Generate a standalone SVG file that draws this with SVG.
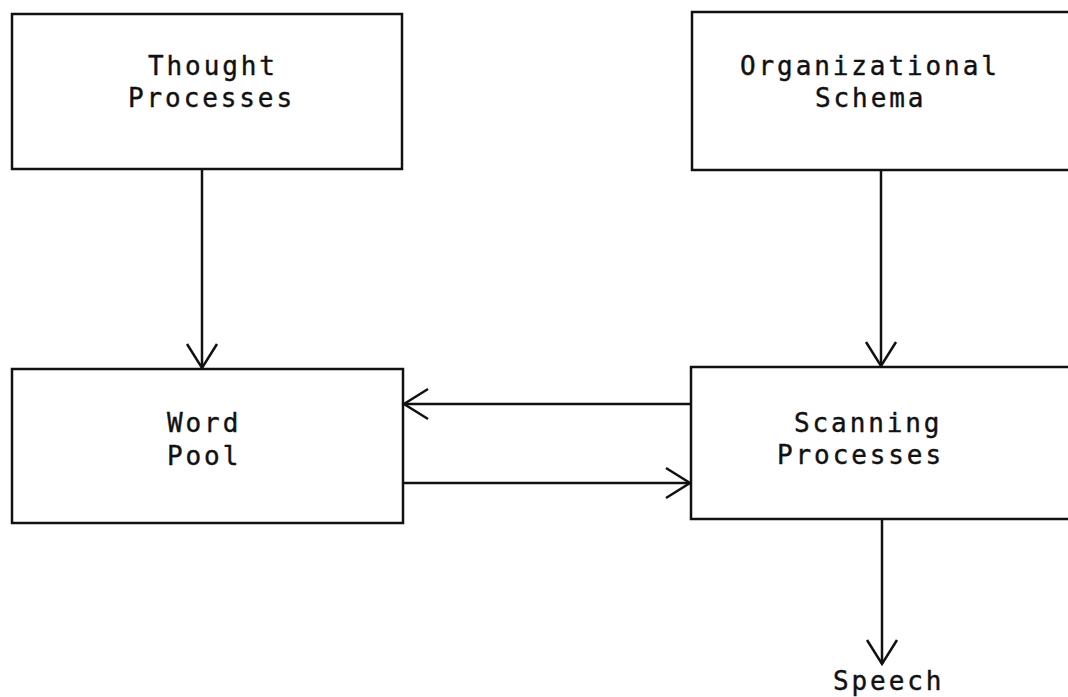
<svg xmlns="http://www.w3.org/2000/svg" width="1068" height="697" viewBox="0 0 1068 697">
<style>
.box{fill:none;stroke:#111;stroke-width:2.5}
.lbl{font-family:"DejaVu Sans Mono","Liberation Mono",monospace;font-size:26px;letter-spacing:2.9px;fill:#111;stroke:#111;stroke-width:0.4}
.conn{stroke:#111;stroke-width:2.5;fill:none}
</style>
<defs>
<marker id="arr" markerUnits="userSpaceOnUse" markerWidth="30" markerHeight="34" viewBox="-26 -17 30 34" refX="0" refY="0" orient="auto">
<path d="M -24 -15 L 0 0 L -24 15" fill="none" stroke="#111" stroke-width="2.5"/>
</marker>
</defs>
<rect x="0" y="0" width="1068" height="697" fill="#fff"/>
<g id="thought">
<rect class="box" x="12" y="14" width="390" height="155"/>
<text class="lbl" x="148" y="75">Thought</text>
<text class="lbl" x="128" y="107">Processes</text>
</g>
<g id="organizational">
<rect class="box" x="692" y="12" width="390" height="158"/>
<text class="lbl" x="740" y="75">Organizational</text>
<text class="lbl" x="815" y="107">Schema</text>
</g>
<g id="wordpool">
<rect class="box" x="12" y="369" width="391" height="154"/>
<text class="lbl" x="167" y="432">Word</text>
<text class="lbl" x="167" y="465">Pool</text>
</g>
<g id="scanning">
<rect class="box" x="691" y="367" width="390" height="152"/>
<text class="lbl" x="794" y="432">Scanning</text>
<text class="lbl" x="777" y="464">Processes</text>
</g>
<g id="speech">
<text class="lbl" x="833" y="690">Speech</text>
</g>
<g id="connectors">
<line class="conn" x1="202" y1="169" x2="202" y2="368" marker-end="url(#arr)"/>
<line class="conn" x1="881" y1="170" x2="881" y2="366" marker-end="url(#arr)"/>
<line class="conn" x1="691" y1="404" x2="404" y2="404" marker-end="url(#arr)"/>
<line class="conn" x1="403" y1="483" x2="690" y2="483" marker-end="url(#arr)"/>
<line class="conn" x1="882" y1="519" x2="882" y2="664" marker-end="url(#arr)"/>
</g>
</svg>
